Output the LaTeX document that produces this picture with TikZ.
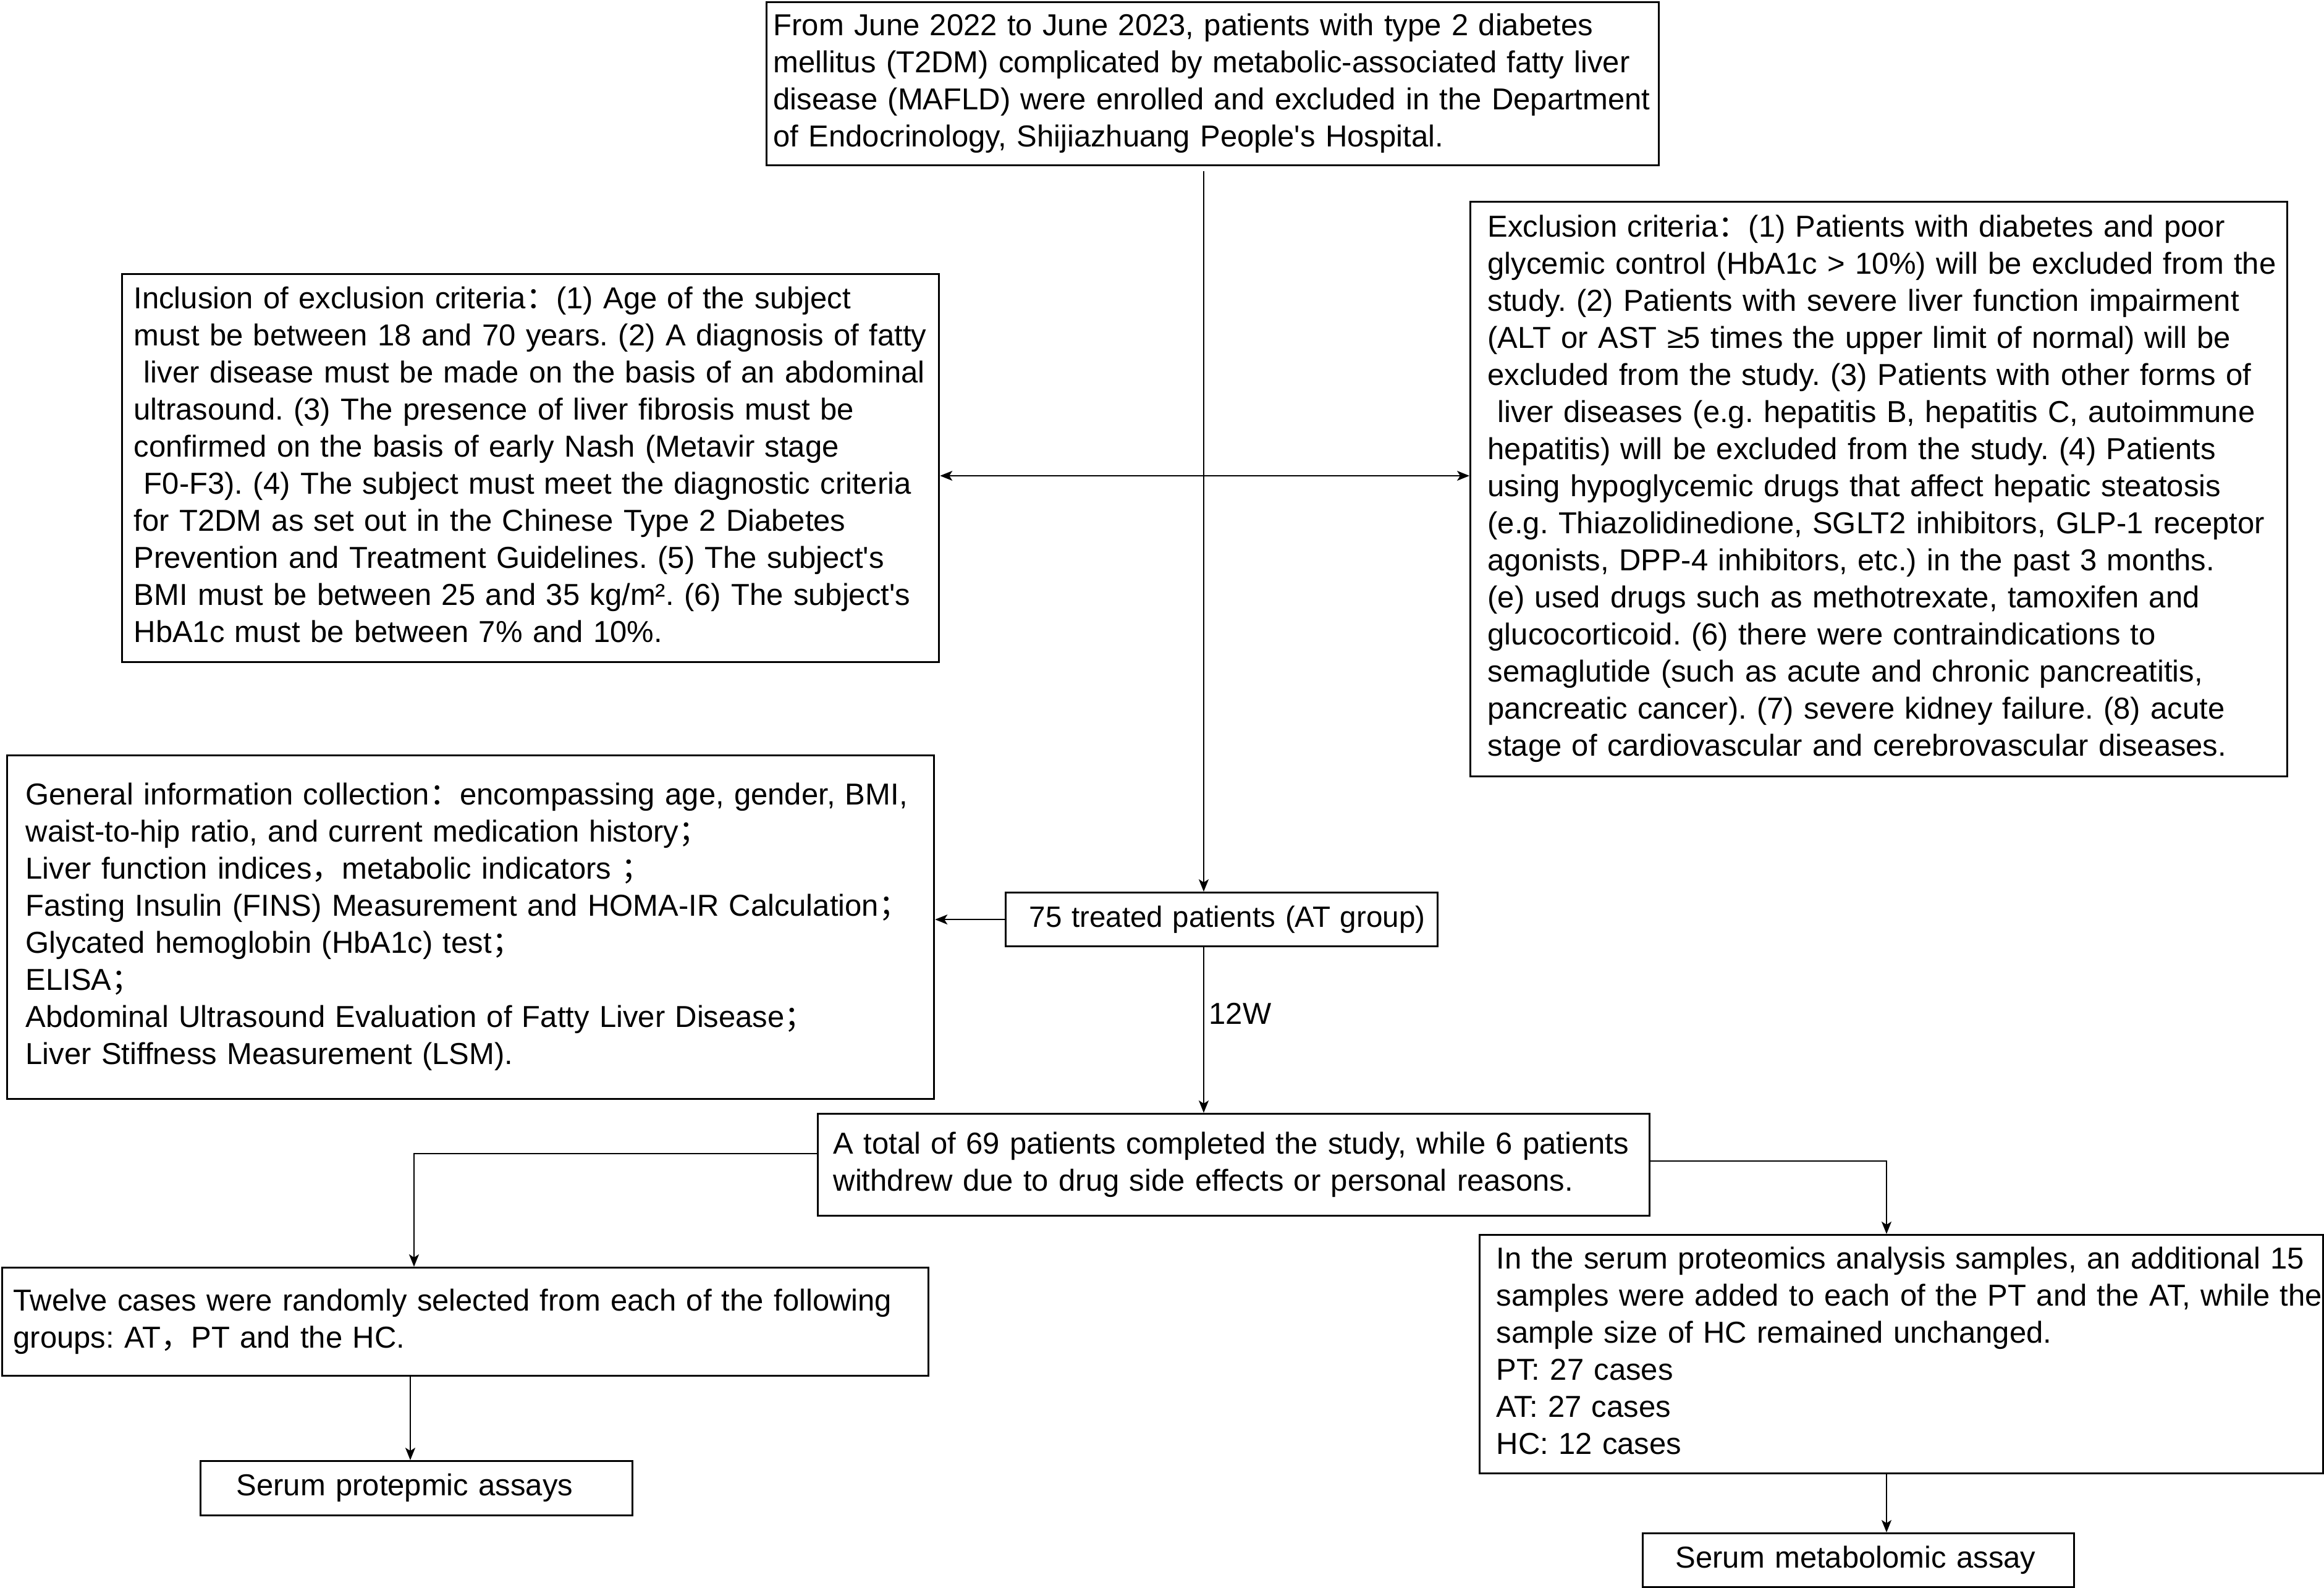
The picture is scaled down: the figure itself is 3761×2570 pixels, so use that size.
\documentclass[tikz,border=0pt]{standalone}
\usepackage{fontspec}
\setmainfont{Liberation Sans}[Ligatures=TeXOff]
\newfontfamily\cjkfont{Noto Sans CJK SC}
\usetikzlibrary{arrows.meta,calc}
\newcommand\zcolon{{\cjkfont ：}}
\newcommand\zsemi{{\cjkfont ；}}
\newcommand\zcomma{{\cjkfont ，}}
\frenchspacing
\begin{document}
\begin{tikzpicture}[x=0.2pt,y=-0.2pt,
  flowbox/.style={draw, line width=0.65pt, anchor=north west, align=left, inner ysep=0pt,
     font=\fontsize{9.8pt}{12pt}\selectfont\frenchspacing},
  arr/.style={line width=0.4pt, -{Stealth[length=4pt,width=3.2pt,inset=1pt]}},
  arrtwo/.style={line width=0.4pt, {Stealth[length=4pt,width=3.2pt,inset=1pt]}-{Stealth[length=4pt,width=3.2pt,inset=1pt]}}]
\useasboundingbox (0,0) rectangle (3761,2570);
\renewcommand\arraystretch{1}

\node[flowbox, minimum width=288.8pt, minimum height=52.8pt, inner xsep=2.2pt, text width=284.4pt] (top) at (1239,2)
{\begin{tabular}{@{}l@{}}From June 2022 to June 2023, patients with type 2 diabetes\\
mellitus (T2DM) complicated by metabolic-associated fatty liver\\
disease (MAFLD) were enrolled and excluded in the Department\\
of Endocrinology, Shijiazhuang People's Hospital.\end{tabular}};

\node[flowbox, minimum width=264.4pt, minimum height=125.6pt, inner xsep=3.8pt, text width=256.8pt] (incl) at (196,442)
{\begin{tabular}{@{}l@{}}Inclusion of exclusion criteria\zcolon (1) Age of the subject\\
must be between 18 and 70 years. (2) A diagnosis of fatty\\
\ liver disease must be made on the basis of an abdominal\\
ultrasound. (3) The presence of liver fibrosis must be\\
confirmed on the basis of early Nash (Metavir stage\\
\ F0-F3). (4) The subject must meet the diagnostic criteria\\
for T2DM as set out in the Chinese Type 2 Diabetes\\
Prevention and Treatment Guidelines. (5) The subject's\\
BMI must be between 25 and 35 kg/m². (6) The subject's\\
HbA1c must be between 7\% and 10\%.\end{tabular}};

\node[flowbox, minimum width=264.4pt, minimum height=186pt, inner xsep=5.6pt, text width=253.2pt] (excl) at (2378,325)
{\begin{tabular}{@{}l@{}}Exclusion criteria\zcolon (1) Patients with diabetes and poor\\
glycemic control (HbA1c > 10\%) will be excluded from the\\
study. (2) Patients with severe liver function impairment\\
(ALT or AST ≥5 times the upper limit of normal) will be\\
excluded from the study. (3) Patients with other forms of\\
\ liver diseases (e.g. hepatitis B, hepatitis C, autoimmune\\
hepatitis) will be excluded from the study. (4) Patients\\
using hypoglycemic drugs that affect hepatic steatosis\\
(e.g. Thiazolidinedione, SGLT2 inhibitors, GLP-1 receptor\\
agonists, DPP-4 inhibitors, etc.) in the past 3 months.\\
(e) used drugs such as methotrexate, tamoxifen and\\
glucocorticoid. (6) there were contraindications to\\
semaglutide (such as acute and chronic pancreatitis,\\
pancreatic cancer). (7) severe kidney failure. (8) acute\\
stage of cardiovascular and cerebrovascular diseases.\end{tabular}};

\node[flowbox, minimum width=300pt, minimum height=111.2pt, inner xsep=6pt, text width=288pt] (gen) at (10,1221)
{\begin{tabular}{@{}l@{}}General information collection\zcolon encompassing age, gender, BMI,\\
waist-to-hip ratio, and current medication history\zsemi\\
Liver function indices\zcomma metabolic indicators \zsemi\\
Fasting Insulin (FINS) Measurement and HOMA-IR Calculation\zsemi\\
Glycated hemoglobin (HbA1c) test\zsemi\\
ELISA\zsemi\\
Abdominal Ultrasound Evaluation of Fatty Liver Disease\zsemi\\
Liver Stiffness Measurement (LSM).\end{tabular}};

\node[flowbox, minimum width=139.8pt, minimum height=17.4pt, inner xsep=7.6pt, text width=124.6pt,
      font=\fontsize{9.5pt}{12pt}\selectfont] (at) at (1626,1443)
{\begin{tabular}{@{}l@{}}75 treated patients (AT group)\end{tabular}};

\node[flowbox, minimum width=269.2pt, minimum height=33pt, inner xsep=5pt, text width=259.2pt] (comp) at (1322,1801)
{\begin{tabular}{@{}l@{}}A total of 69 patients completed the study, while 6 patients\\
withdrew due to drug side effects or personal reasons.\end{tabular}};

\node[flowbox, minimum width=299.8pt, minimum height=35pt, inner xsep=3.6pt, text width=292.6pt] (twelve) at (2,2050)
{\begin{tabular}{@{}l@{}}Twelve cases were randomly selected from each of the following\\
groups: AT\zcomma PT and the HC.\end{tabular}};

\node[flowbox, minimum width=139.8pt, minimum height=17.6pt, inner xsep=11.6pt, text width=116.6pt] (prot) at (323,2363)
{\begin{tabular}{@{}l@{}}Serum protepmic assays\end{tabular}};

\node[flowbox, minimum width=273pt, minimum height=77.2pt, inner xsep=5.4pt, text width=262.2pt] (serum) at (2393,1997)
{\begin{tabular}{@{}l@{}}In the serum proteomics analysis samples, an additional 15\\
samples were added to each of the PT and the AT, while the\\
sample size of HC remained unchanged.\\
PT: 27 cases\\
AT: 27 cases\\
HC: 12 cases\end{tabular}};

\node[flowbox, minimum width=139.6pt, minimum height=17.4pt, inner xsep=10.6pt, text width=118.4pt] (metab) at (2657,2480)
{\begin{tabular}{@{}l@{}}Serum metabolomic assay\end{tabular}};

\coordinate (mx) at (1948,0);
\coordinate (hy) at (0,770);
\coordinate (lc) at (670,1867);
\coordinate (rc) at (3053,1879);
\coordinate (px) at (664,0);

\draw[arr] ($(top.south -| mx)+(0,8)$) -- (at.north -| mx);
\draw[arr] (at.south -| mx) -- node[right, inner sep=1.5pt, font=\fontsize{9.8pt}{12pt}\selectfont, pos=0.4] (lbl) {12W} (comp.north -| mx);
\draw[arr] (at.west) -- (at.west -| gen.east);
\draw[arrtwo] (incl.east |- hy) -- (excl.west |- hy);
\draw[arr] (comp.west |- lc) -- (lc) -- (lc |- twelve.north);
\draw[arr] (comp.east |- rc) -- (rc) -- (rc |- serum.north);
\draw[arr] (twelve.south -| px) -- (prot.north -| px);
\draw[arr] (serum.south -| rc) -- (metab.north -| rc);
\end{tikzpicture}
\end{document}
